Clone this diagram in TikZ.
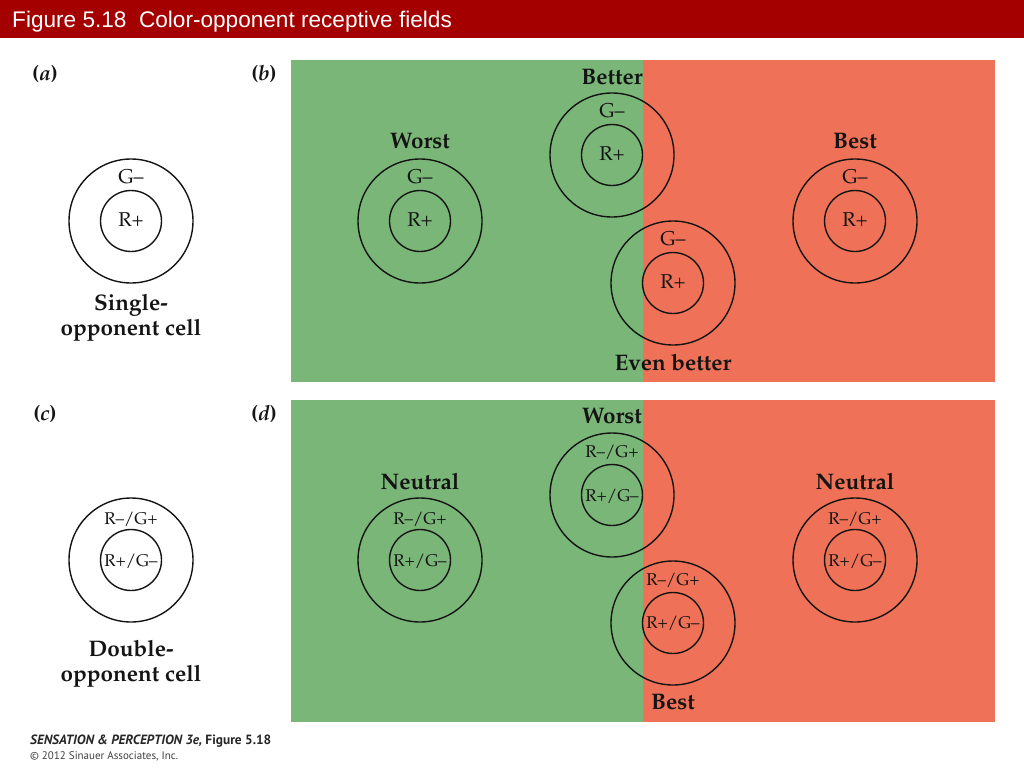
\documentclass[tikz,border=0pt]{standalone}
\usepackage[T1]{fontenc}
\usepackage{fontspec}
\newfontfamily\arialf{Liberation Sans}
\newfontfamily\footf{PT Sans}
\newcommand\pal{\fontencoding{T1}\fontfamily{ppl}\selectfont}
\definecolor{titlered}{RGB}{164,0,0}
\definecolor{fieldgreen}{RGB}{122,182,120}
\definecolor{fieldred}{RGB}{239,114,88}
\definecolor{ink}{RGB}{20,20,20}
\tikzset{
  outerc/.style={circle,draw=ink,line width=1.4pt,minimum size=124pt,inner sep=0pt},
  innerc/.style={circle,draw=ink,line width=1.4pt,minimum size=61pt,inner sep=0pt},
  lab/.style={inner sep=0pt,font=\pal\bfseries\fontsize{22.5}{25}\selectfont,text=ink},
  sub/.style={inner sep=0pt,font=\pal\fontsize{20}{22}\selectfont,text=ink},
  subd/.style={inner sep=0pt,font=\pal\fontsize{17}{19}\selectfont,text=ink},
  plab/.style={inner sep=0pt,font=\pal\bfseries\fontsize{21}{24}\selectfont,text=ink},
}
\begin{document}
\begin{tikzpicture}[x=1pt,y=-1pt]
\useasboundingbox (0,0) rectangle (1024,768);
\fill[white] (0,0) rectangle (1024,768);
% title bar
\fill[titlered] (0,0) rectangle (1024,38);
\node[anchor=base west,inner sep=0pt,text=white,font=\arialf\fontsize{22.6}{26}\selectfont] (title) at (12,28) {Figure 5.18\ \ Color-opponent receptive fields};
% panel backgrounds
\fill[fieldgreen] (291,60) rectangle (643,382);
\fill[fieldred] (643,60) rectangle (995,382);
\fill[fieldgreen] (291,400) rectangle (643,722);
\fill[fieldred] (643,400) rectangle (995,722);
% panel labels
\node[plab] (pa) at (45,74) {(\textit{a})};
\node[plab] (pb) at (264,74) {(\textit{b})};
\node[plab] (pc) at (45,414) {(\textit{c})};
\node[plab] (pd) at (264,414) {(\textit{d})};
% (a)
\node[outerc] (aO) at (131,221) {};
\node[innerc] (aI) at (131,221) {};
\node[sub] (aS) at (131,177) {G--};
\node[sub] (aC) at (131,220) {R+};
\node[lab,align=center] (aT) at (131,318) {Single-\\opponent cell};
% (b)
\node[outerc] (bwO) at (420,221) {};
\node[innerc] (bwI) at (420,221) {};
\node[lab] (bwT) at (420,141) {Worst};
\node[sub] (bwS) at (420,177) {G--};
\node[sub] (bwC) at (420,220) {R+};
\node[outerc] (bbO) at (855,221) {};
\node[innerc] (bbI) at (855,221) {};
\node[lab] (bbT) at (855,141) {Best};
\node[sub] (bbS) at (855,177) {G--};
\node[sub] (bbC) at (855,220) {R+};
\node[outerc] (btO) at (612,155) {};
\node[innerc] (btI) at (612,155) {};
\node[lab] (btT) at (612,77) {Better};
\node[sub] (btS) at (612,111) {G--};
\node[sub] (btC) at (612,154) {R+};
\node[outerc] (beO) at (673,283) {};
\node[innerc] (beI) at (673,283) {};
\node[lab] (beT) at (673,362) {Even better};
\node[sub] (beS) at (673,239) {G--};
\node[sub] (beC) at (673,282) {R+};
% (c)
\node[outerc] (cO) at (131,560) {};
\node[innerc] (cI) at (131,560) {};
\node[subd] (cS) at (131,519) {R--/G+};
\node[subd] (cC) at (131,561) {R+/G--};
\node[lab,align=center] (cT) at (131,664) {Double-\\opponent cell};
% (d)
\node[outerc] (dnO) at (420,560) {};
\node[innerc] (dnI) at (420,560) {};
\node[lab] (dnT) at (420,481) {Neutral};
\node[subd] (dnS) at (420,519) {R--/G+};
\node[subd] (dnC) at (420,561) {R+/G--};
\node[outerc] (dmO) at (855,560) {};
\node[innerc] (dmI) at (855,560) {};
\node[lab] (dmT) at (855,481) {Neutral};
\node[subd] (dmS) at (855,519) {R--/G+};
\node[subd] (dmC) at (855,561) {R+/G--};
\node[outerc] (dwO) at (612,495) {};
\node[innerc] (dwI) at (612,495) {};
\node[lab] (dwT) at (612,416) {Worst};
\node[subd] (dwS) at (612,452) {R--/G+};
\node[subd] (dwC) at (612,496) {R+/G--};
\node[outerc] (dbO) at (673,623) {};
\node[innerc] (dbI) at (673,623) {};
\node[lab] (dbT) at (673,702) {Best};
\node[subd] (dbS) at (673,580) {R--/G+};
\node[subd] (dbC) at (673,623) {R+/G--};
% footer
\node[anchor=base west,inner sep=0pt,text=black!85,font=\footf\fontsize{13.4}{15}\selectfont] (f1) at (30,744) {\bfseries\itshape SENSATION \& PERCEPTION 3e, \upshape Figure 5.18};
\node[anchor=base west,inner sep=0pt,text=black!75,font=\footf\fontsize{11}{13}\selectfont] (f2) at (30,759) {© 2012 Sinauer Associates, Inc.};
\end{tikzpicture}
\end{document}
